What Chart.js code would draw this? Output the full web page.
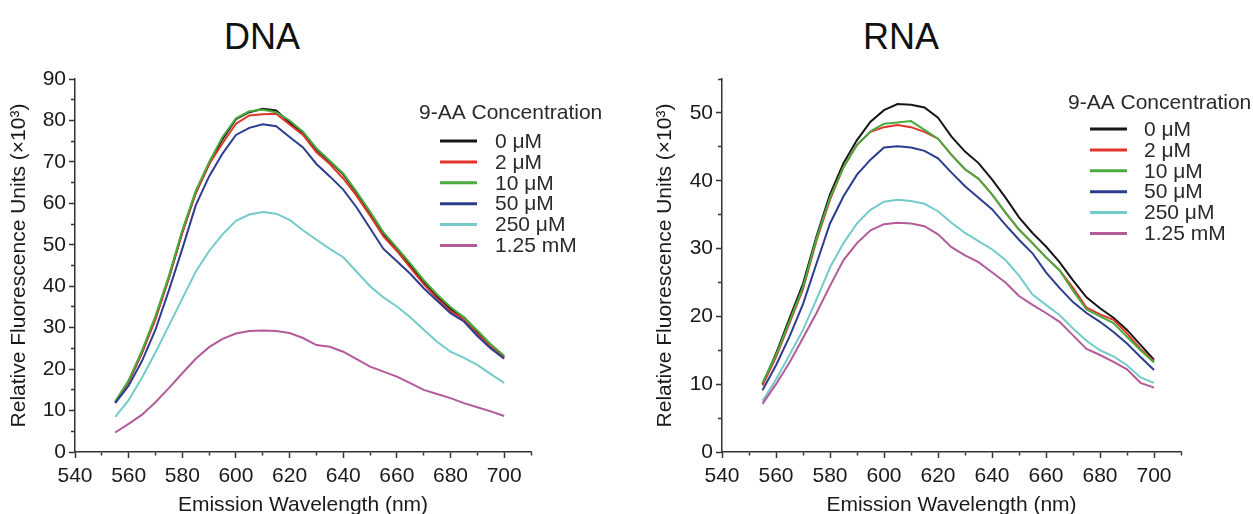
<!DOCTYPE html>
<html lang="en">
<head>
    <meta charset="UTF-8">
    <title>9-AA fluorescence with DNA and RNA</title>

    <!-- Chart.js -->
    <script src="https://cdn.jsdelivr.net/npm/chart.js@4.4.2/dist/chart.umd.min.js"></script>

    <style>
        html, body { margin: 0; padding: 0; background: #fff; }
        body {
            width: 1253px; height: 514px;
            position: relative; overflow: hidden;
            font-family: 'Liberation Sans', Arial, sans-serif;
        }
        .panel-title {
            position: absolute; top: 17px; width: 200px;
            margin: 0; font-size: 36px; line-height: 40px; font-weight: normal;
            text-align: center; color: #111;
        }
        canvas { position: absolute; top: 0; }
    </style>
</head>
<body>

    <div class="panel-title" style="left: 162px;">DNA</div>
    <div class="panel-title" style="left: 801px;">RNA</div>

    <canvas id="dnaChart" width="626" height="514" style="left: 0;"></canvas>
    <canvas id="rnaChart" width="627" height="514" style="left: 626px;"></canvas>

    <script>
    // --- Data ---
    const wavelengths = [555, 560, 565, 570, 575, 580, 585, 590, 595, 600, 605, 610, 615, 620, 625,
                         630, 635, 640, 645, 650, 655, 660, 665, 670, 675, 680, 685, 690, 695, 700];
    const concentrations = ['0 \u03BCM', '2 \u03BCM', '10 \u03BCM', '50 \u03BCM', '250 \u03BCM', '1.25 mM'];
    const xTickLabels = [540, 560, 580, 600, 620, 640, 660, 680, 700];
    const dnaYTickLabels = [0, 10, 20, 30, 40, 50, 60, 70, 80, 90];
    const rnaYTickLabels = [0, 10, 20, 30, 40, 50];

    // DNA, fluorescence x10^3
    const dna0    = [12, 17, 24, 32.5, 42, 53, 62.5, 69.5, 75.5, 80.3, 82, 82.8, 82.4, 79.5, 77,
                     73, 70, 67, 62.5, 57.5, 52.5, 49, 45, 41, 37.5, 34.5, 32.5, 29, 25.5, 23];
    const dna2    = [12, 17, 24, 32, 42, 53, 62.5, 69.5, 74.5, 79.2, 81.2, 81.5, 81.6, 79, 76.5,
                     72.3, 69.5, 66, 61.8, 57, 52, 48.5, 44.5, 40.5, 37, 34, 32, 28.5, 25.5, 22.8];
    const dna10   = [12.2, 17.3, 24.5, 32.8, 42.5, 53.5, 63, 70, 76, 80.5, 82.2, 82.6, 82, 80, 77.3,
                     73.3, 70.3, 67.2, 62.8, 58, 53, 49.3, 45.5, 41.5, 38, 35, 32.5, 29.3, 26, 23.2];
    const dna50   = [11.8, 16, 22, 29.5, 39, 49, 59.5, 66.5, 72, 76.5, 78.2, 79.1, 78.6, 76, 73.5,
                     69.5, 66.5, 63.3, 59, 54, 49, 46, 43, 39.5, 36.5, 33.5, 31.5, 28, 25, 22.5];
    const dna250  = [8.5, 12.5, 18, 24, 30.5, 37, 43.5, 48.5, 52.5, 55.8, 57.3, 57.9, 57.5, 56, 53.5,
                     51.2, 49, 47, 43.5, 40, 37.3, 35.1, 32.5, 29.5, 26.6, 24.2, 22.7, 21, 18.8, 16.7];
    const dna1250 = [4.7, 6.8, 9, 12, 15.4, 19, 22.5, 25.3, 27.3, 28.6, 29.2, 29.3, 29.2, 28.7, 27.5,
                     25.8, 25.4, 24.2, 22.4, 20.6, 19.4, 18.2, 16.6, 15, 14, 13, 11.8, 10.8, 9.8, 8.7];

    // RNA, fluorescence x10^3
    const rna0    = [10, 14.5, 19.7, 24.8, 31.8, 38, 42.6, 46, 48.7, 50.4, 51.3, 51.2, 50.8, 49.3, 46.5,
                     44.3, 42.6, 40.2, 37.5, 34.6, 32.3, 30.3, 28, 25.3, 22.8, 21.2, 19.8, 18, 15.8, 13.6];
    const rna2    = [9.8, 14, 19, 24, 31.2, 37.2, 42, 45.3, 47.2, 47.9, 48.2, 47.9, 47.2, 46.2, 43.8,
                     41.7, 40.3, 38, 35.3, 32.8, 30.8, 28.7, 26.8, 24.2, 21.3, 20.3, 19.5, 17.5, 15.2, 13.4];
    const rna10   = [10.2, 14.3, 19.3, 24.3, 31.5, 37.5, 42, 45.3, 47.3, 48.4, 48.6, 48.8, 47.5, 46.2, 43.8,
                     41.7, 40.3, 38, 35.3, 32.8, 30.8, 28.7, 26.8, 23.8, 21, 20, 19, 17, 15, 13.2];
    const rna50   = [9.1, 12.8, 17, 21.8, 27.8, 33.7, 37.7, 40.9, 43.1, 44.9, 45.1, 44.9, 44.4, 43.3, 41.2,
                     39.2, 37.5, 35.8, 33.5, 31.3, 29.3, 26.5, 24.2, 22.1, 20.5, 19.2, 17.7, 16, 14, 12.1];
    const rna250  = [7.5, 10.7, 14.3, 18, 22.5, 27.2, 30.8, 33.7, 35.7, 36.9, 37.2, 37, 36.6, 35.5, 33.8,
                     32.3, 31.1, 29.9, 28.3, 26, 23.2, 21.7, 20.2, 18.2, 16.4, 15, 14.1, 12.8, 11, 10.2];
    const rna1250 = [7.1, 10, 13.2, 16.8, 20.5, 24.5, 28.3, 30.8, 32.7, 33.6, 33.8, 33.7, 33.3, 32.1, 30.2,
                     29, 28, 26.5, 25, 23, 21.7, 20.5, 19.2, 17.2, 15.2, 14.3, 13.3, 12.2, 10.2, 9.5];

    const lineColors = ['#161616', '#e2332b', '#4aab3e', '#2c3c8f', '#74cbca', '#b35b98'];

    Chart.defaults.font.family = "'Liberation Sans', Arial, sans-serif";
    Chart.defaults.font.size = 21;
    Chart.defaults.color = '#1a1a1a';

    // legend drawn as plain line + label rows, like the figure
    const lineLegend = {
        id: 'lineLegend',
        afterDraw(chart, args, opts) {
            const ctx = chart.ctx;
            ctx.save();
            ctx.font = "21px 'Liberation Sans', Arial, sans-serif";
            ctx.textBaseline = 'middle';
            ctx.fillStyle = '#2a2a2a';
            ctx.fillText(opts.title, opts.titleX, opts.titleY);
            chart.data.datasets.forEach((ds, i) => {
                const y = opts.rowY + i * opts.rowGap;
                ctx.strokeStyle = ds.borderColor;
                ctx.lineWidth = 3;
                ctx.beginPath();
                ctx.moveTo(opts.lineX, y);
                ctx.lineTo(opts.lineX + opts.lineLen, y);
                ctx.stroke();
                ctx.fillText(ds.label, opts.textX, y + 1);
            });
            ctx.restore();
        }
    };

    function makeDatasets(seriesList) {
        return seriesList.map((series, i) => ({
            label: concentrations[i],
            data: wavelengths.map((w, j) => ({ x: w, y: series[j] })),
            borderColor: lineColors[i],
            backgroundColor: lineColors[i],
            borderWidth: 2,
            pointRadius: 0,
            tension: 0,
            order: -i   // later series drawn on top, as in the original
        }));
    }

    function makeOptions(yMax, yLabels, yAxisWidth, yTitlePad, padRight, legend) {
        return {
            responsive: false,
            animation: false,
            layout: { padding: { top: 79, right: padRight, bottom: 0, left: 0 } },
            plugins: {
                legend: { display: false },
                tooltip: { enabled: false },
                lineLegend: legend
            },
            scales: {
                x: {
                    type: 'linear', min: 540, max: 710,
                    border: { color: '#333', width: 1.5 },
                    grid: {
                        drawOnChartArea: false, tickLength: 6, tickColor: '#333', tickWidth: 1.5,
                        tickBorderDash: c => (c.tick && xTickLabels.includes(c.tick.value)) ? [] : [3, 20]
                    },
                    ticks: {
                        stepSize: 10, autoSkip: false, maxRotation: 0, padding: 6,
                        callback: v => xTickLabels.includes(v) ? String(v) : ''
                    },
                    title: { display: true, text: 'Emission Wavelength (nm)', padding: { top: 0, bottom: -4 } },
                    afterFit: s => { s.height = 62; }
                },
                y: {
                    min: 0, max: yMax,
                    border: { color: '#333', width: 1.5 },
                    grid: {
                        drawOnChartArea: false, tickLength: 6, tickColor: '#333', tickWidth: 1.5,
                        tickBorderDash: c => (c.tick && yLabels.includes(c.tick.value)) ? [] : [3, 20],
                        tickBorderDashOffset: c => (c.tick && yLabels.includes(c.tick.value)) ? 0 : 21
                    },
                    ticks: {
                        stepSize: 5, autoSkip: false, padding: 3,
                        callback: v => yLabels.includes(v) ? String(v) : ''
                    },
                    title: { display: true, text: 'Relative Fluorescence Units (\u00D710\u00B3)', padding: { top: yTitlePad, bottom: 0 } },
                    afterFit: s => { s.width = yAxisWidth; }
                }
            }
        };
    }

    new Chart(document.getElementById('dnaChart'), {
        type: 'line',
        data: { datasets: makeDatasets([dna0, dna2, dna10, dna50, dna250, dna1250]) },
        options: makeOptions(90, dnaYTickLabels, 75, 7, 95, {
            title: '9-AA Concentration', titleX: 419, titleY: 113,
            lineX: 440, lineLen: 37, textX: 495, rowY: 141, rowGap: 20.9
        }),
        plugins: [lineLegend]
    });

    new Chart(document.getElementById('rnaChart'), {
        type: 'line',
        data: { datasets: makeDatasets([rna0, rna2, rna10, rna50, rna250, rna1250]) },
        options: makeOptions(55, rnaYTickLabels, 96, 27, 72, {
            title: '9-AA Concentration', titleX: 442, titleY: 103,
            lineX: 464, lineLen: 37, textX: 518, rowY: 129, rowGap: 20.9
        }),
        plugins: [lineLegend]
    });
    </script>
</body>
</html>
